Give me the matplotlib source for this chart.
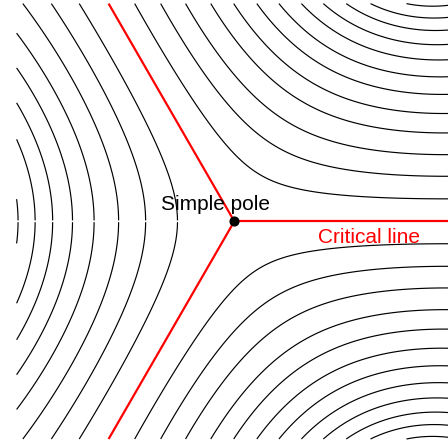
import numpy as np
import matplotlib
matplotlib.use("Agg")
import matplotlib.pyplot as plt

# ---- data ----
# trajectory levels in the right-hand sectors (upper/lower mirror each other)
levels_right = [0.119, 0.237, 0.347, 0.453, 0.543, 0.626, 0.697, 0.760, 0.812, 0.856, 0.891, 0.921]
# trajectory levels in the left-hand sector
levels_left = [0.131, 0.249, 0.360, 0.464, 0.555, 0.636, 0.704, 0.766]
# directions of the critical lines (degrees)
critical_angles = [0, 120, 240]
pole_label = "Simple pole"
critical_label = "Critical line"

# ---- field ----
decay = 0.26
n = 900
xs = np.linspace(-1, 1, n)
ys = np.linspace(0.004, 1, n // 2)
X, Y = np.meshgrid(xs, ys)
R = np.hypot(X, Y)
T = np.arctan2(Y, X)
F = R ** 1.5 * np.exp(-decay * R ** 2) * np.sin(1.5 * T)

levels = sorted([-v for v in levels_left]) + sorted(levels_right)

px0, py0, scale = 234.3, 221.3, 217.7
fig = plt.figure(figsize=(4.48, 4.45), dpi=100)
ax = fig.add_axes([0, 0, 1, 1])
ax.set_xlim(-px0 / scale, (448 - px0) / scale)
ax.set_ylim(-(445 - py0) / scale, py0 / scale)
ax.axis("off")

for sgn in (1, -1):
    ax.contour(X, sgn * Y, F, levels=levels, colors="black", linewidths=0.85,
               linestyles="solid")

# critical lines, clipped to the square domain
for a in critical_angles:
    t = np.deg2rad(a)
    c, s = np.cos(t), np.sin(t)
    L = 1.0 / max(abs(c), abs(s))
    ax.plot([0, L * c], [0, L * s], color="#ff0000", lw=1.6, solid_capstyle="butt", zorder=3)

ax.plot([0], [0], "o", color="black", ms=6.3, zorder=5)

font = ["Liberation Sans", "DejaVu Sans"]
ax.text(-0.335, 0.0505, pole_label, fontsize=15, family=font,
        ha="left", va="baseline", color="black", zorder=6)
ax.text(0.383, -0.101, critical_label, fontsize=15, family=font,
        ha="left", va="baseline", color="#ff0000", zorder=6)

fig.savefig("out.png", dpi=100)
